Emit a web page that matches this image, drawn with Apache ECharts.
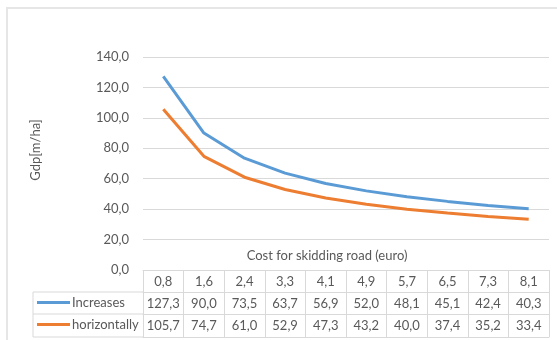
<!DOCTYPE html>
<html>
<head>
<meta charset="utf-8">
<script src="https://cdn.jsdelivr.net/npm/echarts@6/dist/echarts.min.js"></script>
<style>
  html, body { margin: 0; padding: 0; background: #fff; }
  #chart { width: 557px; height: 340px; }
</style>
</head>
<body>
<div id="chart"></div>
<script>
// Cost for skidding road (euro) on the category axis
const costs = ['0,8', '1,6', '2,4', '3,3', '4,1', '4,9', '5,7', '6,5', '7,3', '8,1'];
// Road density Gdp [m/ha]
const increases = [127.3, 90.0, 73.5, 63.7, 56.9, 52.0, 48.1, 45.1, 42.4, 40.3];
const horizontally = [105.7, 74.7, 61.0, 52.9, 47.3, 43.2, 40.0, 37.4, 35.2, 33.4];
const seriesNames = ['Increases', 'horizontally'];
const seriesColors = ['#5b9bd5', '#ed7d31'];

const fmt = v => v.toFixed(1).replace('.', ',');
const FONT = 'Lato';
const FS = 13;
const TEXT = '#595959';
const RULE = '#d9d9d9';

const chart = echarts.init(document.getElementById('chart'));

// geometry of the plot / data table
const G = { left: 143, right: 8, top: 57, bottom: 70 };
const rowH = 22;
const tableTop = 340 - G.bottom;

function tableAxis(offset, data, showLabel) {
  return {
    type: 'category',
    gridIndex: 0,
    position: 'bottom',
    offset: offset,
    data: data,
    boundaryGap: true,
    axisLine: { show: true, lineStyle: { color: RULE, width: 1 } },
    axisTick: { show: false },
    axisLabel: { show: showLabel, interval: 0, margin: 5, color: TEXT, fontFamily: FONT, fontSize: FS },
    splitLine: { show: false }
  };
}

function legendRow(i) {
  return {
    orient: 'horizontal',
    left: 37,
    top: tableTop + rowH * (i + 1) + 4,
    itemWidth: 33,
    itemHeight: 3,
    itemGap: 0,
    icon: 'rect',
    selectedMode: false,
    padding: 0,
    textStyle: { color: TEXT, fontFamily: FONT, fontSize: FS, padding: [0, 0, 0, -3] },
    data: [seriesNames[i]]
  };
}

const option = {
  animation: false,
  backgroundColor: '#fff',
  grid: { left: G.left, right: G.right, top: G.top, bottom: G.bottom, containLabel: false },
  xAxis: [
    {
      type: 'category',
      data: costs,
      boundaryGap: true,
      position: 'bottom',
      axisLine: { show: true, lineStyle: { color: RULE, width: 1 } },
      axisTick: { show: true, interval: 0, length: rowH * 3 + 1, lineStyle: { color: RULE, width: 1 } },
      axisLabel: { interval: 0, margin: 5, color: TEXT, fontFamily: FONT, fontSize: FS },
      splitLine: { show: false }
    },
    tableAxis(rowH, increases.map(fmt), true),
    tableAxis(rowH * 2, horizontally.map(fmt), true),
    tableAxis(rowH * 3 + 1, costs, false)
  ],
  yAxis: {
    type: 'value',
    min: 0,
    max: 140,
    interval: 20,
    axisLine: { show: false },
    axisTick: { show: false },
    axisLabel: { formatter: fmt, margin: 14, color: TEXT, fontFamily: FONT, fontSize: FS },
    splitLine: { lineStyle: { color: RULE, width: 1 } }
  },
  legend: [legendRow(0), legendRow(1)],
  graphic: [
    // outer chart frame
    { type: 'rect', shape: { x: 7, y: 8, width: 600, height: 400 }, style: { fill: 'none', stroke: '#e6e6e6', lineWidth: 2 }, silent: true },
    // legend column of the data table
    { type: 'line', shape: { x1: 33, y1: tableTop + rowH, x2: G.left, y2: tableTop + rowH }, style: { stroke: RULE, lineWidth: 1 } },
    { type: 'line', shape: { x1: 33, y1: tableTop + rowH * 2, x2: G.left, y2: tableTop + rowH * 2 }, style: { stroke: RULE, lineWidth: 1 } },
    { type: 'line', shape: { x1: 33, y1: tableTop + rowH * 3 + 1, x2: G.left, y2: tableTop + rowH * 3 + 1 }, style: { stroke: RULE, lineWidth: 1 } },
    { type: 'line', shape: { x1: 33, y1: tableTop + rowH, x2: 33, y2: tableTop + rowH * 3 + 1 }, style: { stroke: RULE, lineWidth: 1 } },
    // axis titles
    {
      type: 'text', x: 327, y: 256,
      style: { text: 'Cost for skidding road (euro)', fill: TEXT, font: FS + 'px ' + FONT, textAlign: 'center', textVerticalAlign: 'middle' }
    },
    {
      type: 'text', x: 36, y: 150, rotation: Math.PI / 2,
      style: { text: 'Gdp[m/ha]', fill: TEXT, font: FS + 'px ' + FONT, textAlign: 'center', textVerticalAlign: 'middle' }
    }
  ],
  series: seriesNames.map((name, i) => ({
    name: name,
    type: 'line',
    data: i === 0 ? increases : horizontally,
    xAxisIndex: 0,
    symbol: 'none',
    smooth: false,
    lineStyle: { color: seriesColors[i], width: 3 },
    itemStyle: { color: seriesColors[i] }
  }))
};

chart.setOption(option);
</script>
</body>
</html>
